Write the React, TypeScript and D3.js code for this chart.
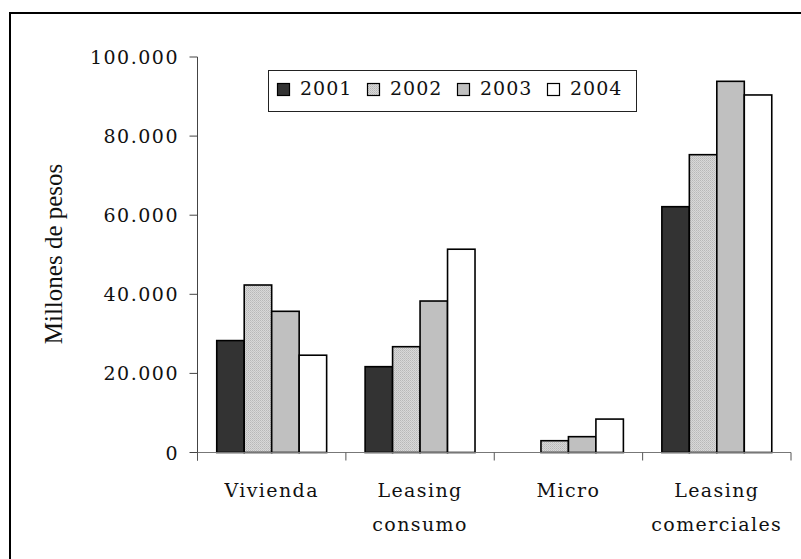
import React from "react";
import * as d3 from "d3";

const categories = ["Vivienda", "Leasing consumo", "Micro", "Leasing comerciales"];
const years = ["2001", "2002", "2003", "2004"];
const v2001 = [28300, 21700, 0, 62150];
const v2002 = [42350, 26750, 2980, 75300];
const v2003 = [35700, 38300, 4000, 93850];
const v2004 = [24600, 51400, 8450, 90400];
const yTicks = [0, 20000, 40000, 60000, 80000, 100000];
const tickLabels = ["0", "20.000", "40.000", "60.000", "80.000", "100.000"];
const yTitle = "Millones de pesos";

const series = [v2001, v2002, v2003, v2004];
const fills = ["#333333", "url(#dots)", "#c0c0c0", "#ffffff"];
const legendFills = ["#333333", "url(#dots)", "#c0c0c0", "#ffffff"];

const W = 801;
const H = 559;
const FONT = "'DejaVu Serif', serif";

export default function App() {
  const x0 = d3.scaleBand<string>().domain(categories).range([197.5, 791]).paddingInner(0).paddingOuter(0);
  const x1 = d3.scaleBand<string>().domain(years).range([0, x0.bandwidth()]).paddingInner(0).paddingOuter(0.7);
  const y = d3.scaleLinear().domain([0, 100000]).range([452.5, 57]);
  const axisY = y(0);
  const boundaries = categories.map((c) => x0(c) as number).concat([x0.range()[1]]);

  return (
    <svg width={W} height={H} style={{ position: "absolute", left: 0, top: 0, background: "#fff" }}>
      <defs>
        <pattern id="dots" width="2" height="2" patternUnits="userSpaceOnUse">
          <rect width="2" height="2" fill="#d8d8d8" />
          <rect x="0" y="0" width="1" height="1" fill="#b8b8b8" />
          <rect x="1" y="1" width="1" height="1" fill="#c4c4c4" />
        </pattern>
      </defs>
      <rect x={0} y={0} width={W} height={H} fill="#fff" />
      <rect x={10} y={13} width={820} height={580} fill="none" stroke="#000" strokeWidth={2} />

      {/* bars */}
      {categories.map((c, ci) =>
        years.map((yr, si) => {
          const v = series[si][ci];
          if (!v) return null;
          const bx = (x0(c) as number) + (x1(yr) as number);
          return (
            <rect
              key={c + yr}
              x={bx}
              y={y(v)}
              width={x1.bandwidth()}
              height={axisY - y(v)}
              fill={fills[si]}
              stroke="#000"
              strokeWidth={1.6}
            />
          );
        })
      )}

      {/* y axis */}
      <line x1={197.5} x2={197.5} y1={y(100000)} y2={axisY + 8} stroke="#444" strokeWidth={1} />
      {yTicks.map((t, i) => (
        <g key={t}>
          <line x1={189.5} x2={197.5} y1={y(t)} y2={y(t)} stroke="#444" strokeWidth={1} />
          <text
            x={179}
            y={y(t)}
            textAnchor="end"
            dominantBaseline="central"
            fontFamily={FONT}
            fontSize={19}
            letterSpacing={1.5}
            fill="#111"
          >
            {tickLabels[i]}
          </text>
        </g>
      ))}

      {/* x axis */}
      <line x1={197.5} x2={x0.range()[1]} y1={axisY} y2={axisY} stroke="#777" strokeWidth={1} />
      {boundaries.map((bx, i) => (
        <line key={i} x1={bx} x2={bx} y1={axisY} y2={axisY + 8} stroke="#555" strokeWidth={1} />
      ))}
      {categories.map((c) => {
        const cx = (x0(c) as number) + x0.bandwidth() / 2;
        const lines = c.split(" ");
        return (
          <text key={c} textAnchor="middle" fontFamily={FONT} fontSize={19} letterSpacing={1.4} fill="#111">
            {lines.map((ln, li) => (
              <tspan key={li} x={cx} y={497 + li * 34}>
                {ln}
              </tspan>
            ))}
          </text>
        );
      })}

      {/* y title */}
      <text
        transform={`translate(62,254) rotate(-90)`}
        textAnchor="middle"
        fontFamily="'Liberation Serif', serif"
        fontSize={25}
        fill="#111"
      >
        {yTitle}
      </text>

      {/* legend */}
      <rect x={268.5} y={70.5} width={368} height={41} fill="#fff" stroke="#222" strokeWidth={1} />
      {years.map((yr, i) => {
        const lx = 277.5 + i * 90;
        return (
          <g key={yr}>
            <rect x={lx} y={83.5} width={12} height={12} fill={legendFills[i]} stroke="#000" strokeWidth={1.2} />
            <text x={lx + 22.5} y={95} fontFamily={FONT} fontSize={19} letterSpacing={1} fill="#111">
              {yr}
            </text>
          </g>
        );
      })}
    </svg>
  );
}
